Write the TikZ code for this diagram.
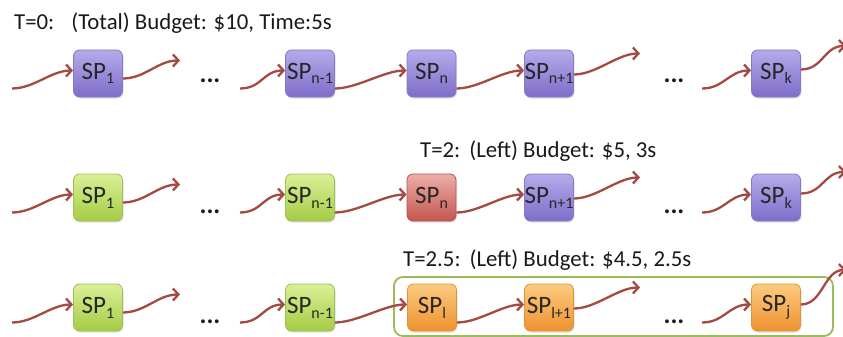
\documentclass[tikz,border=0pt]{standalone}
\usepackage{fontspec}
\setmainfont{Carlito}
\usetikzlibrary{arrows.meta,shadows}
\definecolor{arrowc}{HTML}{A34A42}
\definecolor{purT}{HTML}{B5ABEA}
\definecolor{purB}{HTML}{7E6DC9}
\definecolor{purD}{HTML}{8878C8}
\definecolor{grnT}{HTML}{DAF096}
\definecolor{grnB}{HTML}{A5CB45}
\definecolor{grnD}{HTML}{9FBE5A}
\definecolor{redT}{HTML}{EDAEA9}
\definecolor{redB}{HTML}{C4554F}
\definecolor{redD}{HTML}{B8524C}
\definecolor{orgT}{HTML}{FCCB80}
\definecolor{orgB}{HTML}{EE922F}
\definecolor{orgD}{HTML}{E0943A}
\definecolor{frame}{HTML}{9BBB59}
\newcommand\spx[1]{SP\raisebox{-0.4ex}{\fontsize{16}{16}\selectfont #1}}
\tikzset{
  spbox/.style={rounded corners=6pt, minimum width=49pt, minimum height=47pt, inner sep=0pt,
    line width=0.8pt, font=\fontsize{25}{25}\selectfont, text=black!85,
    drop shadow={opacity=0.25, shadow xshift=1pt, shadow yshift=-1.5pt}},
  pur/.style={spbox, draw=purD, top color=purT, bottom color=purB},
  grn/.style={spbox, draw=grnD, top color=grnT, bottom color=grnB},
  rdx/.style={spbox, draw=redD, top color=redT, bottom color=redB},
  org/.style={spbox, draw=orgD, top color=orgT, bottom color=orgB},
  wave/.style={draw=arrowc, line width=2.3pt, -{Straight Barb[length=5.5pt,width=12pt,line width=2.3pt]}},
  dotsx/.style={font=\fontsize{26}{26}\selectfont\bfseries, inner sep=0pt, text=black!90},
  title/.style={font=\fontsize{22.8}{22.8}\selectfont, anchor=base west, inner sep=0pt, text=black!90}
}
\newcommand\wv[2]{\draw[wave] (#1) .. controls +(22pt,0) and +(-22pt,0) .. (#2);}
\begin{document}
\begin{tikzpicture}[x=1pt,y=-1pt]
\useasboundingbox[fill=white] (0,0) rectangle (843,337);
% ---------- Row 1 ----------
\node[title] (t1) at (14,30) {T=0:\hspace{0.75em}(Total) Budget: \$10, Time:5s};
\node[pur] (a1) at (98,73.5) {\spx{1}};
\node[pur] (a2) at (310,73.5) {\spx{n-1}};
\node[pur] (a3) at (431.5,73.5) {\spx{n}};
\node[pur] (a4) at (549,73.5) {\spx{n+1}};
\node[pur] (a5) at (776,73.5) {\spx{k}};
\node[dotsx] (ad1) at (210,81) {...};
\node[dotsx] (ad2) at (674,81) {...};
\coordinate (ai1) at (12,88.5);
\coordinate (ao1) at (180,60.5);
\coordinate (ai2) at (240,88.5);
\coordinate (ao4) at (640,53.5);
\coordinate (ai5) at (702,88.5);
\coordinate (ao5) at (846,46);
\wv{ai1}{[yshift=3pt]a1.west}
\wv{[yshift=-5pt]a1.east}{ao1}
\wv{ai2}{[yshift=3pt]a2.west}
\wv{[yshift=-15pt]a2.east}{[yshift=3pt]a3.west}
\wv{[yshift=-15pt]a3.east}{[yshift=3pt]a4.west}
\wv{[yshift=-1pt]a4.east}{ao4}
\wv{ai5}{[yshift=3pt]a5.west}
\wv{[yshift=4pt]a5.east}{ao5}
% ---------- Row 2 ----------
\node[title] (t2) at (420,157) {T=2:\hspace{0.4em}(Left) Budget: \$5, 3s};
\node[grn] (b1) at (98,197.5) {\spx{1}};
\node[grn] (b2) at (310,197.5) {\spx{n-1}};
\node[rdx] (b3) at (431.5,197.5) {\spx{n}};
\node[pur] (b4) at (549,197.5) {\spx{n+1}};
\node[pur] (b5) at (776,197.5) {\spx{k}};
\node[dotsx] (bd1) at (210,212) {...};
\node[dotsx] (bd2) at (674,212) {...};
\coordinate (bi1) at (12,212.5);
\coordinate (bo1) at (180,184.5);
\coordinate (bi2) at (240,212.5);
\coordinate (bo4) at (640,177.5);
\coordinate (bi5) at (702,212.5);
\coordinate (bo5) at (846,172);
\wv{bi1}{[yshift=3pt]b1.west}
\wv{[yshift=-5pt]b1.east}{bo1}
\wv{bi2}{[yshift=3pt]b2.west}
\wv{[yshift=-15pt]b2.east}{[yshift=3pt]b3.west}
\wv{[yshift=-15pt]b3.east}{[yshift=3pt]b4.west}
\wv{[yshift=-1pt]b4.east}{bo4}
\wv{bi5}{[yshift=3pt]b5.west}
\wv{[yshift=4pt]b5.east}{bo5}
% ---------- Row 3 ----------
\node[title] (t3) at (403,266) {T=2.5:\hspace{0.4em}(Left) Budget: \$4.5, 2.5s};
\draw[frame, line width=1.8pt, rounded corners=9pt] (394,277) rectangle (833,336);
\node[grn] (c1) at (98,307.5) {\spx{1}};
\node[grn] (c2) at (310,307.5) {\spx{n-1}};
\node[org] (c3) at (432,307.5) {\spx{l}};
\node[org] (c4) at (549,307.5) {\spx{l+1}};
\node[org] (c5) at (776,307.5) {\spx{j}};
\node[dotsx] (cd1) at (210,322) {...};
\node[dotsx] (cd2) at (674,322) {...};
\coordinate (ci1) at (12,322.5);
\coordinate (co1) at (180,294.5);
\coordinate (ci2) at (240,322.5);
\coordinate (co4) at (640,287.5);
\coordinate (ci5) at (702,322.5);
\coordinate (co5) at (846,270);
\wv{ci1}{[yshift=3pt]c1.west}
\wv{[yshift=-5pt]c1.east}{co1}
\wv{ci2}{[yshift=3pt]c2.west}
\wv{[yshift=-15pt]c2.east}{[yshift=3pt]c3.west}
\wv{[yshift=-15pt]c3.east}{[yshift=3pt]c4.west}
\wv{[yshift=-1pt]c4.east}{co4}
\wv{ci5}{[yshift=3pt]c5.west}
\wv{[yshift=3pt]c5.east}{co5}
\end{tikzpicture}
\end{document}
